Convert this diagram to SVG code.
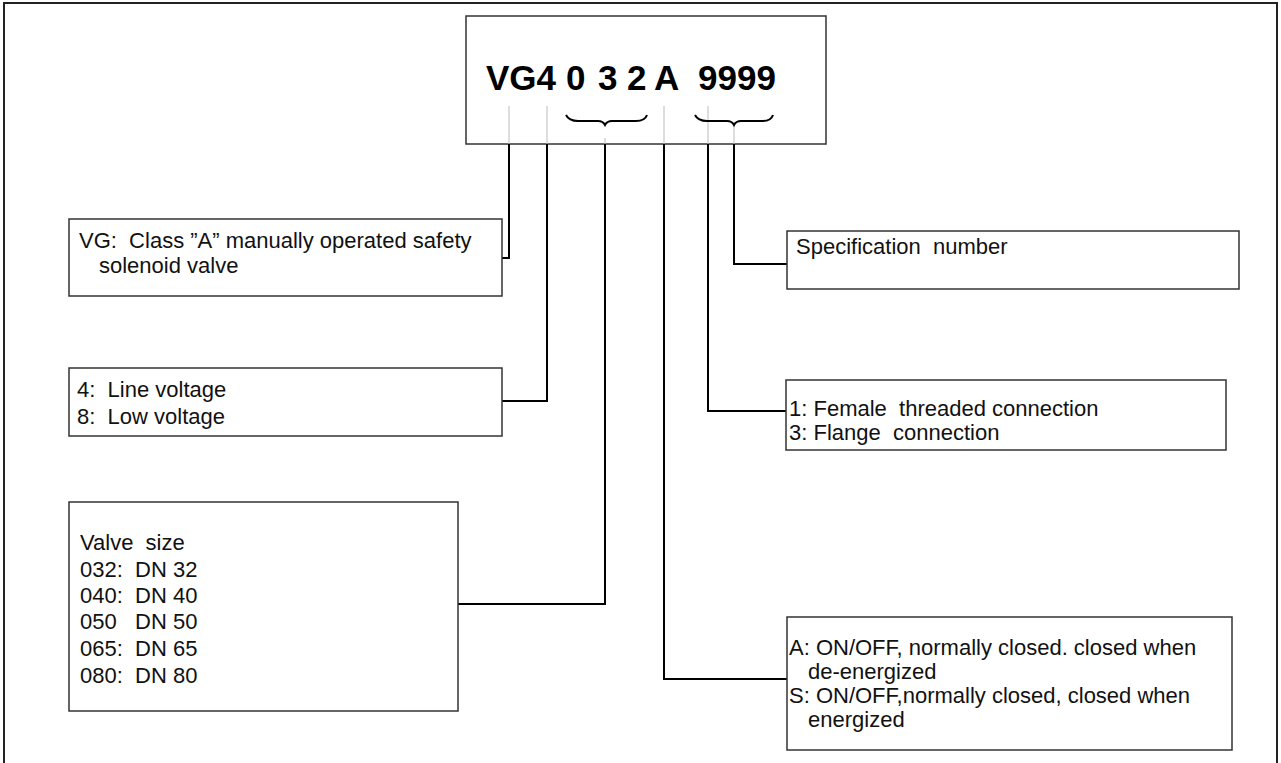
<svg xmlns="http://www.w3.org/2000/svg" width="1281" height="763" viewBox="0 0 1281 763">
<style>
.frame{fill:none;stroke:#222;stroke-width:2}
.box{fill:#fff;stroke:#333;stroke-width:1.5}
.t{font-family:"Liberation Sans",Arial,sans-serif;font-size:22px;fill:#111;white-space:pre}
.big{font-family:"Liberation Sans",Arial,sans-serif;font-size:35px;font-weight:bold;fill:#000}
.tick{stroke:#bbb;stroke-width:1}
.brace{fill:none;stroke:#000;stroke-width:2}
.conn{fill:none;stroke:#000;stroke-width:2}
</style>
<rect x="0" y="0" width="1281" height="763" fill="#fff"/>
<path class="frame" d="M4,764 V3 H1277 V764"/>
<g id="code">
<rect class="box" x="466" y="16" width="360" height="128"/>
<text class="big" x="486" y="90">VG4</text>
<text class="big" x="566" y="90">0</text>
<text class="big" x="598" y="90">3</text>
<text class="big" x="627" y="90">2</text>
<text class="big" x="654" y="90">A</text>
<text class="big" x="698" y="90">9999</text>
<line class="tick" x1="509" y1="106" x2="509" y2="144"/>
<line class="tick" x1="547" y1="106" x2="547" y2="144"/>
<line class="tick" x1="605" y1="138" x2="605" y2="144"/>
<line class="tick" x1="664" y1="106" x2="664" y2="144"/>
<line class="tick" x1="708" y1="106" x2="708" y2="144"/>
<line class="tick" x1="734" y1="125" x2="734" y2="144"/>
<path class="brace" d="M566,115 Q569,121 578,121 L598,121 Q603,121 605,125 Q607,121 612,121 L636,121 Q645,121 647,115"/>
<path class="brace" d="M695,115 Q698,121 707,121 L727,121 Q732,121 734,125 Q736,121 741,121 L763,121 Q771,121 773,115"/>
</g>
<g id="connectors">
<path class="conn" d="M509,144 V258 H502"/>
<path class="conn" d="M547,144 V401 H502"/>
<path class="conn" d="M605,144 V604 H458"/>
<path class="conn" d="M664,144 V679 H787"/>
<path class="conn" d="M708,144 V411 H786"/>
<path class="conn" d="M734,144 V264 H787"/>
</g>
<g id="vg">
<rect class="box" x="69" y="219" width="433" height="77"/>
<text class="t" x="79" y="248">VG:  Class ”A” manually operated safety</text>
<text class="t" x="99" y="273">solenoid valve</text>
</g>
<g id="voltage">
<rect class="box" x="69" y="368" width="433" height="68"/>
<text class="t" x="77" y="397">4:  Line voltage</text>
<text class="t" x="77" y="424">8:  Low voltage</text>
</g>
<g id="size">
<rect class="box" x="69" y="502" width="389" height="209"/>
<text class="t" x="80" y="550">Valve  size</text>
<text class="t" x="80" y="577">032:  DN 32</text>
<text class="t" x="80" y="603">040:  DN 40</text>
<text class="t" x="80" y="629">050   DN 50</text>
<text class="t" x="80" y="656">065:  DN 65</text>
<text class="t" x="80" y="683">080:  DN 80</text>
</g>
<g id="spec">
<rect class="box" x="787" y="231" width="452" height="58"/>
<text class="t" x="796" y="254">Specification  number</text>
</g>
<g id="connection">
<rect class="box" x="786" y="380" width="440" height="70"/>
<text class="t" x="789" y="416">1: Female  threaded connection</text>
<text class="t" x="789" y="440">3: Flange  connection</text>
</g>
<g id="mode">
<rect class="box" x="787" y="617" width="445" height="133"/>
<text class="t" x="789" y="655">A: ON/OFF, normally closed. closed when</text>
<text class="t" x="808" y="679">de-energized</text>
<text class="t" x="789" y="703">S: ON/OFF,normally closed, closed when</text>
<text class="t" x="808" y="727">energized</text>
</g>
</svg>
